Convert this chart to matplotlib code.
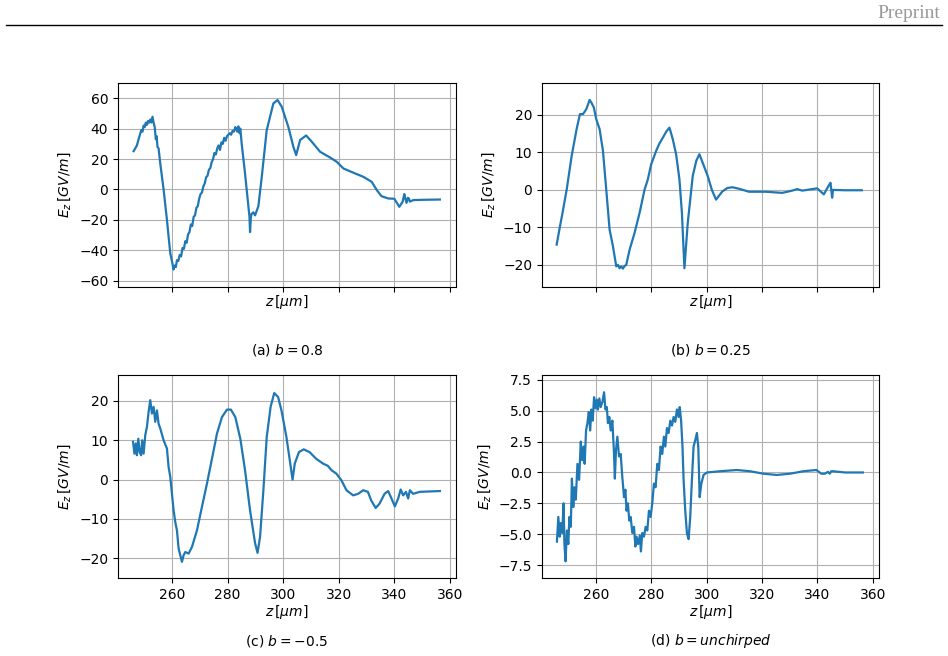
import numpy as np
import matplotlib.pyplot as plt

# (a) b = 0.8
z_a = [246.2, 246.8, 247.4, 248.0, 248.6, 249.0, 249.4, 249.8, 250.2, 250.6, 251.0, 251.4,
       251.8, 252.2, 252.6, 253.0, 253.4, 253.8, 254.2, 254.5, 254.8, 255.2, 255.8, 257.0,
       258.2, 259.4, 260.0, 260.6, 261.0, 261.4, 261.8, 262.3, 262.8, 263.3, 263.8, 264.3,
       264.8, 265.3, 265.8, 266.3, 266.8, 267.3, 267.8, 268.3, 268.8, 269.3, 269.8, 270.3,
       270.8, 271.3, 271.8, 272.3, 272.8, 273.3, 273.8, 274.3, 274.8, 275.3, 275.8, 276.3,
       276.8, 277.3, 277.8, 278.3, 278.8, 279.3, 279.8, 280.3, 280.8, 281.3, 281.8, 282.3,
       282.8, 283.1, 283.5, 283.9, 284.3, 284.6, 285.1, 286.3, 287.5, 287.9, 288.1, 288.4,
       288.7, 289.3, 289.9, 291.1, 292.3, 294.1, 296.5, 298.0, 299.5, 301.9, 303.7, 304.7,
       306.1, 308.3, 310.3, 313.3, 316.9, 319.3, 321.7, 325.3, 328.9, 331.9, 333.7, 335.4,
       337.8, 340.0, 341.0, 341.8, 342.5, 343.0, 343.6, 344.0, 344.4, 344.9, 345.3, 345.6,
       346.8, 350.0, 356.4]
ez_a = [25.2, 27.0, 29.0, 33.0, 36.8, 39.0, 38.0, 42.0, 41.0, 44.0, 42.5, 45.0,
        44.0, 46.0, 44.0, 47.8, 44.0, 41.0, 33.0, 35.0, 28.0, 27.0, 17.0, 0.0,
        -20.0, -42.0, -47.0, -52.6, -50.0, -51.0, -46.5, -47.0, -43.0, -44.0, -38.5, -39.0,
        -34.0, -35.0, -29.5, -28.0, -23.0, -24.0, -18.0, -17.0, -12.0, -11.0, -6.0, -3.0,
        -2.0, 2.0, 4.0, 8.0, 9.0, 13.0, 14.0, 18.0, 20.0, 24.0, 23.0, 27.0,
        29.0, 26.0, 31.0, 30.0, 34.0, 32.0, 35.0, 36.0, 37.0, 36.0, 38.5, 38.0,
        41.0, 40.0, 38.0, 41.5, 37.0, 40.0, 30.0, 10.5, -11.0, -18.0, -28.0, -18.0,
        -16.0, -15.0, -17.0, -11.0, 8.0, 39.0, 56.6, 58.8, 54.4, 41.0, 28.0, 22.6,
        32.5, 35.5, 31.4, 24.8, 21.0, 18.2, 13.8, 11.0, 8.3, 5.0, -0.4, -4.4,
        -5.9, -6.1, -9.0, -11.4, -9.5, -8.1, -3.0, -6.0, -8.8, -5.5, -6.0, -8.0,
        -7.0, -6.8, -6.6]

# (b) b = 0.25
z_b = [245.9, 247.1, 248.0, 249.5, 251.3, 253.1, 254.3, 255.4, 256.6, 257.8, 258.4, 259.3,
       260.2, 261.4, 262.6, 263.8, 265.0, 266.2, 267.4, 268.0, 268.6, 269.2, 269.8, 270.4,
       271.0, 272.2, 274.0, 275.8, 277.6, 278.8, 280.0, 281.8, 283.0, 284.2, 285.5, 286.6,
       287.8, 289.0, 290.2, 291.1, 292.0, 293.2, 295.0, 296.3, 297.4, 298.6, 300.4, 301.9,
       303.4, 305.7, 307.5, 309.3, 311.7, 315.3, 321.3, 327.3, 330.9, 332.7, 334.5, 339.9,
       342.3, 344.1, 344.7, 345.3, 345.6, 350.0, 356.0]
ez_b = [-14.6, -9.7, -6.2, 0.0, 9.0, 16.2, 20.2, 20.2, 21.5, 24.0, 23.3, 22.0,
        18.8, 16.2, 10.4, 0.0, -10.6, -15.0, -20.4, -20.0, -20.9, -20.4, -21.0, -20.3,
        -20.0, -16.0, -11.5, -6.2, 0.0, 2.8, 6.8, 10.4, 12.4, 13.9, 15.6, 16.6,
        13.5, 9.5, 2.8, -6.2, -20.9, -8.8, 3.7, 7.8, 9.5, 7.2, 3.7, 0.0,
        -2.6, -0.4, 0.5, 0.7, 0.3, -0.5, -0.5, -0.8, -0.2, 0.2, -0.2, 0.4,
        -1.2, 1.2, 1.9, -2.1, 0.0, -0.1, -0.1]

# (c) b = -0.5
z_c = [246.0, 246.5, 247.0, 247.4, 247.9, 248.4, 248.9, 249.3, 249.8, 250.4, 251.0, 251.6,
       252.2, 252.8, 253.4, 254.0, 254.6, 255.2, 255.8, 257.0, 258.2, 258.8, 259.4, 260.0,
       260.6, 261.2, 261.8, 262.4, 263.0, 263.6, 264.2, 264.8, 266.0, 267.2, 269.0, 270.8,
       272.6, 274.4, 276.2, 278.0, 279.8, 281.2, 282.8, 284.6, 286.3, 288.1, 289.9, 290.8,
       291.7, 292.9, 294.1, 295.5, 296.8, 298.2, 299.4, 301.2, 302.4, 303.4, 304.2, 305.7,
       307.4, 309.5, 311.9, 314.3, 316.1, 317.4, 319.2, 321.0, 322.8, 325.2, 327.0, 328.8,
       330.5, 331.7, 333.3, 334.7, 336.5, 337.8, 339.0, 340.2, 341.4, 342.3, 343.2, 344.2,
       345.0, 345.6, 346.8, 349.2, 356.4]
ez_c = [9.6, 6.6, 9.2, 6.2, 10.4, 7.0, 6.2, 10.0, 6.6, 11.3, 13.4, 17.2,
        20.2, 16.8, 18.5, 14.7, 17.6, 14.2, 13.0, 10.0, 7.9, 3.2, 0.7, -3.6,
        -7.8, -10.8, -12.9, -17.5, -19.2, -20.9, -19.2, -18.4, -18.8, -17.1, -12.9, -6.9,
        -1.0, 5.3, 11.7, 15.9, 17.8, 17.8, 15.9, 10.4, 2.4, -7.8, -16.1, -18.6,
        -14.6, -2.7, 10.8, 18.5, 22.0, 21.0, 17.6, 10.8, 4.9, 0.0, 4.1, 7.0,
        7.7, 7.0, 5.3, 4.1, 3.5, 2.4, 1.5, -0.2, -2.7, -4.0, -3.6, -2.7,
        -3.1, -5.3, -7.2, -6.1, -3.6, -2.9, -4.8, -6.8, -4.8, -2.5, -4.0, -3.1,
        -4.8, -2.7, -3.6, -3.1, -2.9]

# (d) b = unchirped
z_d = [246.0, 246.5, 247.0, 247.4, 247.9, 248.4, 248.7, 249.1, 249.6, 250.1, 250.5, 251.0,
       251.4, 251.9, 252.3, 252.8, 253.4, 254.0, 254.6, 255.1, 255.6, 256.0, 256.5, 257.0,
       257.5, 258.0, 258.4, 258.9, 259.4, 259.9, 260.4, 260.8, 261.3, 261.8, 262.4, 263.0,
       263.5, 264.0, 264.4, 264.9, 265.4, 266.0, 266.6, 266.9, 267.3, 267.8, 268.4, 269.0,
       269.6, 270.2, 270.7, 271.1, 271.6, 272.1, 272.6, 273.2, 273.8, 274.3, 274.7, 275.3,
       275.9, 276.3, 276.8, 277.4, 278.0, 278.6, 279.2, 279.8, 280.4, 281.0, 281.6, 282.2,
       282.8, 283.4, 284.0, 284.6, 285.1, 285.7, 286.3, 286.9, 287.5, 288.1, 288.7, 289.3,
       289.9, 290.3, 290.8, 291.3, 291.7, 292.3, 292.9, 293.5, 294.1, 294.7, 295.3, 295.9,
       296.5, 297.0, 297.5, 298.1, 298.9, 300.1, 304.9, 310.9, 315.7, 320.5, 325.3, 330.1,
       334.9, 339.6, 341.4, 342.6, 343.8, 344.4, 345.0, 345.6, 350.0, 356.4]
ez_d = [-5.6, -3.6, -5.2, -4.1, -4.9, -2.5, -5.8, -7.2, -4.7, -5.8, -3.6, -4.4,
        -0.5, -2.8, -1.2, -2.2, 0.7, -0.6, 2.5, 1.0, 2.1, 0.7, 3.4, 4.0,
        4.9, 3.4, 5.1, 4.2, 6.1, 5.2, 5.9, 5.1, 6.0, 5.3, 5.7, 6.5,
        5.1, 5.3, 4.0, 4.5, 3.4, 4.2, 1.5, -0.5, 1.8, 2.9, 1.3, 1.5,
        -0.4, -2.0, -1.4, -3.1, -2.5, -3.9, -3.6, -4.9, -4.4, -6.0, -5.2, -5.8,
        -5.1, -6.4, -4.9, -5.2, -4.4, -4.7, -3.1, -3.6, -2.5, -0.9, -1.2, 0.7,
        0.2, 2.1, 1.5, 2.9, 2.1, 3.6, 3.2, 4.2, 3.8, 4.5, 4.1, 5.1,
        4.5, 5.3, 4.2, 2.1, -0.6, -3.1, -4.9, -5.4, -3.6, -0.6, 2.1, 2.6,
        3.2, 2.1, -2.0, -0.9, -0.2, 0.0, 0.1, 0.2, 0.1, -0.1, -0.2, -0.1,
        0.1, 0.2, -0.1, -0.1, 0.05, -0.1, 0.1, 0.1, 0.0, 0.0]

captions = ['(a) $b = 0.8$', '(b) $b = 0.25$', '(c) $b = -0.5$', '(d) $b = unchirped$']
ylims = [(-64.1, 70), (-25.9, 28.5), (-25, 26.6), (-8.55, 7.9)]
yticks = [np.arange(-60, 61, 20), np.arange(-20, 21, 10), np.arange(-20, 21, 10),
          np.arange(-7.5, 7.6, 2.5)]
xticks = np.arange(260, 361, 20)

plt.rcParams['font.size'] = 10
plt.rcParams['mathtext.fontset'] = 'dejavusans'

fig = plt.figure(figsize=(9.48, 6.56), dpi=100)

# page header
fig.text(0.992, 0.979, 'Preprint', ha='right', va='center', color='#999999',
         family='Liberation Serif', fontsize=14)
fig.add_artist(plt.Line2D([0.006, 0.994], [0.962, 0.962], color='black', lw=1.0))

rects = [[0.1245, 0.5625, 0.3565, 0.311],
         [0.5717, 0.5625, 0.3555, 0.311],
         [0.1245, 0.1189, 0.3565, 0.3095],
         [0.5717, 0.1189, 0.3555, 0.3095]]
cap_pos = [(0.3027, 0.4665), (0.7495, 0.4665), (0.3027, 0.0229), (0.7495, 0.0229)]
data = [(z_a, ez_a), (z_b, ez_b), (z_c, ez_c), (z_d, ez_d)]

for i, (z, ez) in enumerate(data):
    ax = fig.add_axes(rects[i])
    ax.plot(z, ez, color='#1f77b4', lw=1.6)
    ax.set_xlim(240.6, 362.2)
    ax.set_ylim(*ylims[i])
    ax.set_xticks(xticks)
    ax.set_yticks(yticks[i])
    ax.grid(True)
    ax.set_xlabel(r'$z\,[\mu m]$', labelpad=1)
    ax.set_ylabel(r'$E_z\,[GV/m]$')
    if i < 2:
        ax.tick_params(labelbottom=False)
    fig.text(cap_pos[i][0], cap_pos[i][1], captions[i], ha='center', va='center', fontsize=10)

fig.savefig('out.png', dpi=100)
